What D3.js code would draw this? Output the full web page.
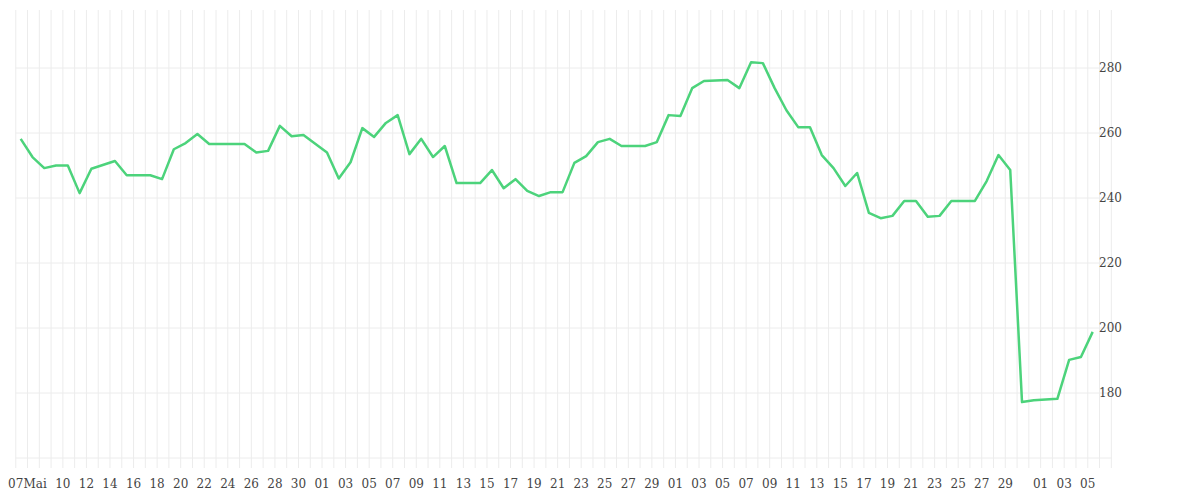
<!DOCTYPE html>
<html>
<head>
<meta charset="utf-8">
<script src="https://cdn.jsdelivr.net/npm/d3@7"></script>
<style>
  body { margin: 0; background: #fff; }
  text { font-family: "DejaVu Serif", serif; }
</style>
</head>
<body>
<div id="chart"></div>
<script>
// day index (from first point) and price
const days = [0, 1, 2, 3, 4, 5, 6, 8, 9, 11, 12, 13, 14, 15, 16, 19, 20, 21, 22, 23, 24, 26, 27, 28, 29, 30, 31, 32,
  33, 34, 35, 36, 37, 39, 40, 41, 42, 43, 44, 45, 46, 47, 48, 49, 50, 51, 53, 54, 55, 56, 57, 58, 60, 61, 62, 63,
  64, 65, 66, 67, 68, 69, 70, 71, 72, 73, 74, 75, 76, 77, 78, 79, 81, 82, 83, 84, 85, 86, 88, 89, 90, 91];
const values = [258.2, 252.6, 249.2, 250, 250, 241.5, 249, 251.4, 247, 247, 245.8, 255, 256.9, 259.7, 256.6, 256.6,
  254, 254.5, 262.2, 259, 259.4, 254, 246, 251, 261.5, 258.8, 263.1, 265.5,
  253.5, 258.2, 252.6, 256, 244.6, 244.6, 248.6, 243, 245.8, 242.2, 240.6, 241.8, 241.8, 250.8, 252.9, 257.2,
  258.2, 256, 256, 257.2, 265.5, 265.2, 273.8, 276, 276.3, 273.8, 281.8, 281.5,
  273.8, 267, 261.8, 261.8, 253.2, 249.2, 243.7, 247.7, 235.4, 233.8, 234.5, 239.1, 239.1, 234.2, 234.5, 239.1,
  239.1, 245.2, 253.2, 248.6, 177.2, 177.8, 178.2, 190.2, 191.1, 198.8];

// tick labels, positions in gridline units
const tickLabels = ["07", "Mai", "10", "12", "14", "16", "18", "20", "22", "24", "26", "28", "30",
  "01", "03", "05", "07", "09", "11", "13", "15", "17", "19", "21", "23", "25", "27", "29",
  "01", "03", "05", "07", "09", "11", "13", "15", "17", "19", "21", "23", "25", "27", "29",
  "01", "03", "05"];
const tickGrid = [0, 1.65, 4, 6, 8, 10, 12, 14, 16, 18, 20, 22, 24,
  26, 28, 30, 32, 34, 36, 38, 40, 42, 44, 46, 48, 50, 52, 54,
  56, 58, 60, 62, 64, 66, 68, 70, 72, 74, 76, 78, 80, 82, 84,
  87, 89, 91];
const yTicks = [180, 200, 220, 240, 260, 280];

const width = 1200, height = 500;
const gridOffset = 0.42; // points sit slightly right of the day gridlines

const svg = d3.select("#chart").append("svg")
  .attr("width", width).attr("height", height);

const x = d3.scaleLinear().domain([0, 91]).range([20.7, 1092.7]);
const gx = g => x(g - gridOffset);
const y = d3.scaleLinear().domain([160, 280]).range([458, 68]);

const gridTop = 10, gridBottom = 468, gridLeft = gx(0), gridRight = gx(93);

// vertical grid
svg.append("g").selectAll("line")
  .data(d3.range(0, 94))
  .join("line")
  .attr("x1", d => gx(d)).attr("x2", d => gx(d))
  .attr("y1", gridTop).attr("y2", gridBottom)
  .attr("stroke", "#ececec").attr("stroke-width", 1);

// horizontal grid
svg.append("g").selectAll("line")
  .data([160, ...yTicks])
  .join("line")
  .attr("x1", gridLeft).attr("x2", gridRight)
  .attr("y1", d => y(d)).attr("y2", d => y(d))
  .attr("stroke", "#ececec").attr("stroke-width", 1);

// y labels
svg.append("g").selectAll("text")
  .data(yTicks)
  .join("text")
  .attr("x", 1099).attr("y", d => y(d) + 4)
  .attr("font-size", 12).attr("fill", "#444")
  .text(d => d);

// x labels
svg.append("g").selectAll("text")
  .data(tickLabels)
  .join("text")
  .attr("x", (d, i) => gx(tickGrid[i]))
  .attr("y", 488)
  .attr("text-anchor", "middle")
  .attr("font-size", 12).attr("fill", "#444")
  .text(d => d);

const line = d3.line()
  .x((d, i) => x(days[i]))
  .y(d => y(d));

svg.append("path")
  .datum(values)
  .attr("d", line)
  .attr("fill", "none")
  .attr("stroke", "#4cd37b")
  .attr("stroke-width", 2.5)
  .attr("stroke-linejoin", "round");
</script>
</body>
</html>
